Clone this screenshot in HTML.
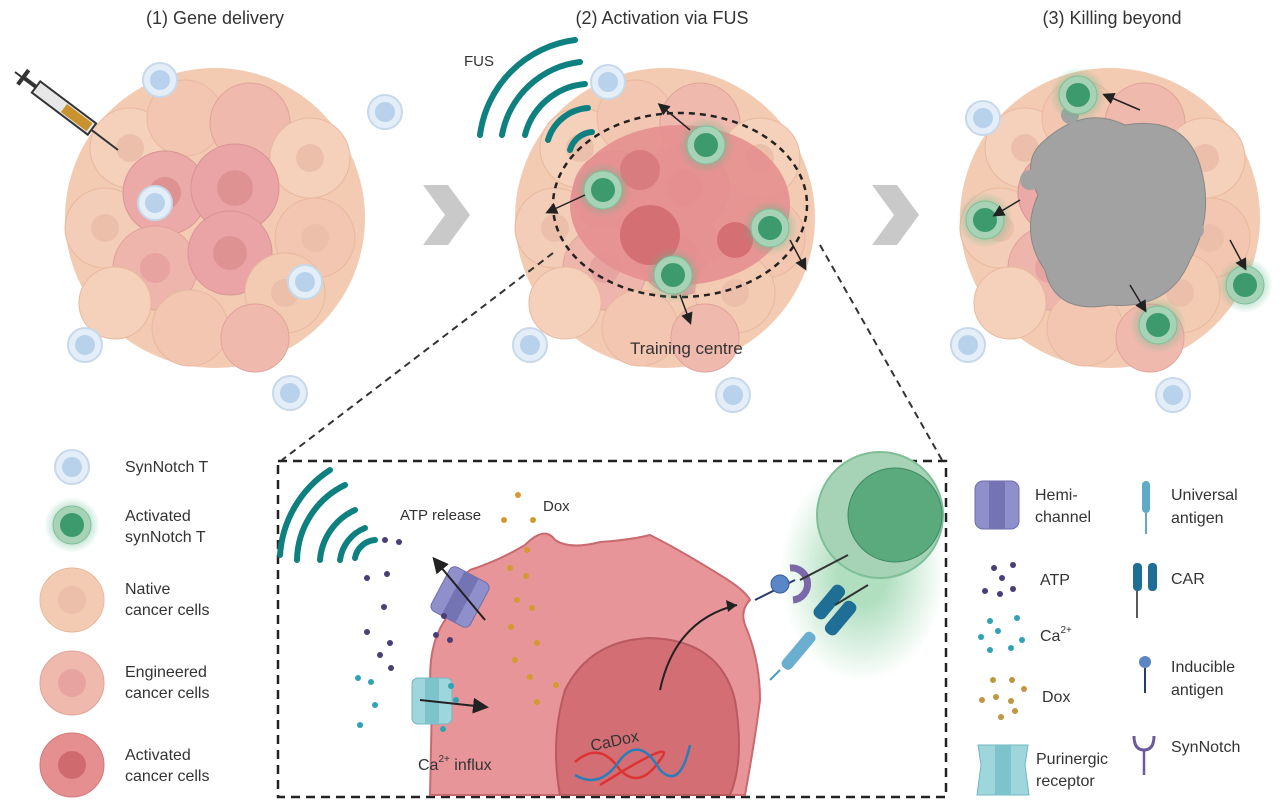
<!DOCTYPE html>
<html><head><meta charset="utf-8"><style>
html,body{margin:0;padding:0;background:#fff;width:1285px;height:809px;overflow:hidden}
svg{display:block}
text{font-family:"Liberation Sans",sans-serif;fill:#333}
</style></head><body>
<svg width="1285" height="809" viewBox="0 0 1285 809" xmlns="http://www.w3.org/2000/svg">
<defs>
<marker id="ah" markerWidth="8" markerHeight="8" refX="6" refY="4" orient="auto"><path d="M0,0 L8,4 L0,8Z" fill="#222"/></marker>
<radialGradient id="glow"><stop offset="0.4" stop-color="#5fb88a" stop-opacity="0.6"/><stop offset="1" stop-color="#5fb88a" stop-opacity="0"/></radialGradient>
<radialGradient id="bglow" cx="0.5" cy="0.5" r="0.5"><stop offset="0.3" stop-color="#8fd1a5" stop-opacity="0.7"/><stop offset="1" stop-color="#8fd1a5" stop-opacity="0"/></radialGradient>
<g id="cl">
<circle cx="0" cy="0" r="150" fill="#f3cbb2"/>
<circle cx="-85" cy="-70" r="40" fill="#f5d1bb" stroke="#e8b89e"/>
<circle cx="-30" cy="-100" r="38" fill="#f2c6b0" stroke="#e8b89e"/>
<circle cx="35" cy="-95" r="40" fill="#efb9ae" stroke="#e0a39a"/>
<circle cx="95" cy="-60" r="40" fill="#f5d1bb" stroke="#e8b89e"/>
<circle cx="-110" cy="10" r="40" fill="#f3cdb7" stroke="#e8b89e"/>
<circle cx="-50" cy="-25" r="42" fill="#eba9a8" stroke="#d99494"/>
<circle cx="20" cy="-30" r="44" fill="#eaa4a6" stroke="#d99494"/>
<circle cx="100" cy="20" r="40" fill="#f2c6b0" stroke="#e8b89e"/>
<circle cx="-60" cy="50" r="42" fill="#eeb5ac" stroke="#e0a39a"/>
<circle cx="15" cy="35" r="42" fill="#eaa4a6" stroke="#d99494"/>
<circle cx="70" cy="75" r="40" fill="#f3cbb2" stroke="#e8b89e"/>
<circle cx="-100" cy="85" r="36" fill="#f5d1bb" stroke="#e8b89e"/>
<circle cx="-25" cy="110" r="38" fill="#f2c6b0" stroke="#e8b89e"/>
<circle cx="40" cy="120" r="34" fill="#efb9ae" stroke="#e0a39a"/>
<circle cx="-50" cy="-25" r="16" fill="#df9292"/>
<circle cx="20" cy="-30" r="18" fill="#df9292"/>
<circle cx="15" cy="35" r="17" fill="#df9292"/>
<circle cx="-60" cy="50" r="15" fill="#e6a3a0"/>
<circle cx="-85" cy="-70" r="14" fill="#ebbfaa"/>
<circle cx="95" cy="-60" r="14" fill="#ebbfaa"/>
<circle cx="100" cy="20" r="14" fill="#ebbfaa"/>
<circle cx="-110" cy="10" r="14" fill="#ebbfaa"/>
<circle cx="70" cy="75" r="14" fill="#ebbfaa"/>
</g>
<g id="tc"><circle r="17" fill="#e4eef8" stroke="#c7d8ea" stroke-width="2"/><circle r="10" fill="#b8d2ec"/></g>
<g id="at"><circle r="28" fill="url(#glow)"/><circle r="19" fill="#a6d2b6" stroke="#7fbf98"/><circle r="12" fill="#3d9a6c"/></g>
</defs>

<text x="215" y="24" font-size="18" text-anchor="middle">(1) Gene delivery</text>
<text x="662" y="24" font-size="18" text-anchor="middle">(2) Activation via FUS</text>
<text x="1112" y="24" font-size="18" text-anchor="middle">(3) Killing beyond</text>

<use href="#cl" transform="translate(215,218)"/>
<use href="#tc" x="160" y="80"/><use href="#tc" x="385" y="112"/><use href="#tc" x="155" y="203"/>
<use href="#tc" x="305" y="282"/><use href="#tc" x="85" y="345"/><use href="#tc" x="290" y="393"/>
<line x1="15" y1="72" x2="118" y2="150" stroke="#333" stroke-width="2"/>
<g transform="translate(60,105) rotate(37)"><rect x="-30" y="-7" width="70" height="14" fill="#e7e7e7" stroke="#333" stroke-width="2"/><rect x="5" y="-5" width="32" height="10" fill="#c8922e"/><rect x="-44" y="-2" width="14" height="4" fill="#333"/><rect x="-48" y="-9" width="4" height="18" fill="#333"/></g>

<polygon points="423,185 448,185 470,215 448,245 423,245 445,215" fill="#c9c9c9"/>
<polygon points="872,185 897,185 919,215 897,245 872,245 894,215" fill="#c9c9c9"/>

<use href="#cl" transform="translate(665,218)"/>
<ellipse cx="680" cy="205" rx="110" ry="80" fill="#e58f90" opacity="0.9"/>
<circle cx="650" cy="235" r="30" fill="#d46f73"/><circle cx="735" cy="240" r="18" fill="#d46f73"/><circle cx="640" cy="170" r="20" fill="#d97c80"/>
<ellipse cx="680" cy="205" rx="127" ry="92" fill="none" stroke="#222" stroke-width="2.5" stroke-dasharray="6,5"/>
<use href="#tc" x="608" y="82"/><use href="#tc" x="530" y="345"/><use href="#tc" x="733" y="395"/>
<use href="#at" x="706" y="145"/><use href="#at" x="603" y="190"/><use href="#at" x="770" y="228"/><use href="#at" x="673" y="275"/>
<g fill="none" stroke="#0f8080" stroke-width="6" stroke-linecap="round">
<path d="M480,135 A110,110 0 0 1 575,40"/><path d="M502,135 A90,90 0 0 1 580,62"/><path d="M525,135 A68,68 0 0 1 585,84"/><path d="M548,140 A45,45 0 0 1 588,108"/><path d="M570,150 A25,25 0 0 1 592,132"/>
</g>
<text x="464" y="66" font-size="15">FUS</text>
<text x="630" y="354" font-size="17">Training centre</text>
<g stroke="#222" stroke-width="1.5" fill="none" marker-end="url(#ah)"><path d="M690,130 L660,105"/><path d="M585,195 L548,212"/><path d="M790,240 L805,268"/><path d="M680,295 L690,322"/></g>
<line x1="553" y1="253" x2="282" y2="460" stroke="#333" stroke-width="2" stroke-dasharray="7,5"/>
<line x1="820" y1="245" x2="942" y2="460" stroke="#333" stroke-width="2" stroke-dasharray="7,5"/>

<use href="#cl" transform="translate(1110,218)"/>
<path d="M1045,140 Q1085,105 1125,125 Q1185,115 1200,165 Q1215,215 1190,260 Q1170,310 1110,305 Q1055,315 1045,270 Q1020,235 1038,195 Q1020,160 1045,140Z" fill="#a2a2a2" stroke="#888"/>
<circle cx="1030" cy="180" r="10" fill="#a2a2a2"/><circle cx="1070" cy="115" r="9" fill="#a2a2a2"/><circle cx="1195" cy="230" r="9" fill="#a2a2a2"/>
<use href="#tc" x="983" y="118"/><use href="#tc" x="968" y="345"/><use href="#tc" x="1173" y="395"/>
<use href="#at" x="1078" y="95"/><use href="#at" x="985" y="220"/><use href="#at" x="1245" y="285"/><use href="#at" x="1158" y="325"/>
<g stroke="#222" stroke-width="1.5" fill="none" marker-end="url(#ah)"><path d="M1140,110 L1105,95"/><path d="M1020,200 L995,215"/><path d="M1230,240 L1245,268"/><path d="M1130,285 L1145,310"/></g>

<use href="#tc" x="72" y="467"/>
<text x="125" y="472" font-size="16">SynNotch T</text>
<use href="#at" x="72" y="525"/>
<text x="125" y="521" font-size="16">Activated</text><text x="125" y="542" font-size="16">synNotch T</text>
<circle cx="72" cy="600" r="32" fill="#f3cbb2" stroke="#e8b89e"/><circle cx="72" cy="600" r="14" fill="#ebbfaa"/>
<text x="125" y="594" font-size="16">Native</text><text x="125" y="615" font-size="16">cancer cells</text>
<circle cx="72" cy="683" r="32" fill="#efb9ae" stroke="#e0a39a"/><circle cx="72" cy="683" r="14" fill="#e6a3a0"/>
<text x="125" y="677" font-size="16">Engineered</text><text x="125" y="698" font-size="16">cancer cells</text>
<circle cx="72" cy="765" r="32" fill="#e58f90" stroke="#d47878"/><circle cx="72" cy="765" r="14" fill="#cf6a6f"/>
<text x="125" y="760" font-size="16">Activated</text><text x="125" y="781" font-size="16">cancer cells</text>

<rect x="278" y="461" width="668" height="336" fill="#fff" stroke="#222" stroke-width="2.5" stroke-dasharray="9,6"/>
<rect x="780" y="462" width="165" height="220" fill="url(#bglow)"/>
<circle cx="880" cy="515" r="63" fill="#a6d2b6" stroke="#7fbf98" stroke-width="2"/>
<circle cx="895" cy="515" r="47" fill="#5aaa7e" stroke="#3d8a62"/>
<g fill="none" stroke="#0f8080" stroke-width="6" stroke-linecap="round">
<path d="M280,555 A110,110 0 0 1 330,470"/><path d="M297,560 A85,85 0 0 1 345,485"/><path d="M320,560 A60,60 0 0 1 355,510"/><path d="M340,560 A40,40 0 0 1 365,528"/><path d="M355,558 A22,22 0 0 1 375,540"/>
</g>
<path d="M430,795 L432,700 Q425,650 445,620 Q450,585 470,570 Q500,560 525,545 Q545,525 555,540 Q570,550 600,542 Q630,540 650,535 Q680,550 720,575 Q745,590 750,600 Q740,610 745,625 Q760,660 760,700 Q755,740 745,795Z" fill="#e8959a" stroke="#c86a70" stroke-width="2"/>
<path d="M560,795 Q550,740 565,690 Q590,640 650,638 Q720,640 735,700 Q745,760 730,795Z" fill="#d36f74" stroke="#b85a60" stroke-width="2"/>
<text x="590" y="745" font-size="16" transform="rotate(-12 620 740)">CaDox</text>
<path d="M575,762 Q600,740 620,770 Q640,790 660,760 Q680,735 600,785" fill="none" stroke="#d33" stroke-width="2.5"/>
<path d="M575,775 Q600,790 620,760 Q640,735 660,770 Q680,790 690,745" fill="none" stroke="#2a7db8" stroke-width="2.5"/>
<path d="M660,690 Q675,620 737,605" fill="none" stroke="#222" stroke-width="2"/>
<polygon points="737,605 726,600 728,612" fill="#222"/>
<text x="400" y="520" font-size="15">ATP release</text>
<text x="543" y="511" font-size="15">Dox</text>
<text x="418" y="770" font-size="16">Ca<tspan dy="-8" font-size="10">2+</tspan><tspan dy="8"> influx</tspan></text>
<g transform="translate(460,597) rotate(28)"><rect x="-22" y="-25" width="44" height="50" rx="6" fill="#8f8fcc" stroke="#6e6eaa"/><rect x="-8" y="-25" width="16" height="50" fill="#7474b5"/></g>
<line x1="485" y1="620" x2="435" y2="560" stroke="#222" stroke-width="2" marker-end="url(#ah)"/>
<g transform="translate(432,700)"><rect x="-20" y="-22" width="40" height="46" rx="6" fill="#9fd6dc" stroke="#6fb8c0"/><rect x="-7" y="-22" width="14" height="46" fill="#7cc3cb"/></g>
<line x1="420" y1="700" x2="485" y2="707" stroke="#222" stroke-width="2" marker-end="url(#ah)"/>
<g fill="#4a3d78"><circle cx="385" cy="540" r="3"/><circle cx="399" cy="542" r="3"/><circle cx="367" cy="578" r="3"/><circle cx="387" cy="574" r="3"/><circle cx="384" cy="607" r="3"/><circle cx="367" cy="632" r="3"/><circle cx="390" cy="643" r="3"/><circle cx="380" cy="655" r="3"/><circle cx="391" cy="668" r="3"/><circle cx="444" cy="616" r="3"/><circle cx="436" cy="635" r="3"/><circle cx="450" cy="640" r="3"/></g>
<g fill="#2fa3b5"><circle cx="358" cy="678" r="3"/><circle cx="371" cy="682" r="3"/><circle cx="375" cy="705" r="3"/><circle cx="360" cy="725" r="3"/><circle cx="451" cy="686" r="3"/><circle cx="456" cy="700" r="3"/><circle cx="443" cy="729" r="3"/></g>
<g fill="#d39a2e"><circle cx="518" cy="495" r="3"/><circle cx="504" cy="520" r="3"/><circle cx="533" cy="520" r="3"/><circle cx="527" cy="550" r="3"/><circle cx="510" cy="568" r="3"/><circle cx="526" cy="576" r="3"/><circle cx="517" cy="600" r="3"/><circle cx="532" cy="608" r="3"/><circle cx="511" cy="627" r="3"/><circle cx="537" cy="643" r="3"/><circle cx="515" cy="660" r="3"/><circle cx="530" cy="677" r="3"/><circle cx="556" cy="685" r="3"/><circle cx="537" cy="702" r="3"/></g>
<line x1="755" y1="600" x2="795" y2="580" stroke="#2a3a6a" stroke-width="2"/>
<circle cx="780" cy="584" r="9" fill="#5a86c8" stroke="#3c5e99"/>
<path d="M790,568 A15,15 0 0 1 793,600" fill="none" stroke="#7b68a8" stroke-width="7"/>
<line x1="800" y1="580" x2="848" y2="555" stroke="#333" stroke-width="2"/>
<g transform="translate(810,625) rotate(40)"><rect x="-7" y="-50" width="14" height="40" rx="6" fill="#1f6e96"/><rect x="12" y="-45" width="14" height="40" rx="6" fill="#1f6e96"/></g>
<g transform="translate(795,655) rotate(40)"><rect x="-6" y="-28" width="12" height="45" rx="5" fill="#6aaed0"/></g>
<line x1="770" y1="680" x2="780" y2="670" stroke="#4a9ec2" stroke-width="2"/>
<line x1="835" y1="605" x2="868" y2="585" stroke="#333" stroke-width="2"/>

<g transform="translate(997,505)"><rect x="-22" y="-24" width="44" height="48" rx="8" fill="#8f8fcc" stroke="#6e6eaa"/><rect x="-8" y="-24" width="16" height="48" fill="#7474b5"/></g>
<text x="1035" y="500" font-size="16">Hemi-</text><text x="1035" y="522" font-size="16">channel</text>
<g fill="#4a3d78"><circle cx="994" cy="568" r="3"/><circle cx="1013" cy="565" r="3"/><circle cx="1002" cy="578" r="3"/><circle cx="985" cy="591" r="3"/><circle cx="1000" cy="594" r="3"/><circle cx="1013" cy="589" r="3"/></g>
<text x="1040" y="585" font-size="16">ATP</text>
<g fill="#2fa3b5"><circle cx="990" cy="621" r="3"/><circle cx="1017" cy="618" r="3"/><circle cx="998" cy="631" r="3"/><circle cx="981" cy="637" r="3"/><circle cx="1022" cy="640" r="3"/><circle cx="990" cy="650" r="3"/><circle cx="1011" cy="648" r="3"/></g>
<text x="1040" y="641" font-size="16">Ca<tspan dy="-8" font-size="10">2+</tspan></text>
<g fill="#c29640"><circle cx="993" cy="680" r="3"/><circle cx="1012" cy="680" r="3"/><circle cx="1024" cy="689" r="3"/><circle cx="982" cy="700" r="3"/><circle cx="996" cy="697" r="3"/><circle cx="1011" cy="701" r="3"/><circle cx="1015" cy="711" r="3"/><circle cx="1001" cy="717" r="3"/></g>
<text x="1042" y="702" font-size="16">Dox</text>
<g transform="translate(1003,765)"><path d="M-25,-20 L25,-20 L22,0 L26,30 L-26,30 L-22,0Z" fill="#9fd6dc" stroke="#6fb8c0"/><rect x="-8" y="-20" width="16" height="50" fill="#7cc3cb"/></g>
<text x="1036" y="764" font-size="16">Purinergic</text><text x="1036" y="786" font-size="16">receptor</text>
<rect x="1142" y="481" width="8" height="32" rx="4" fill="#5faac8"/><line x1="1146" y1="513" x2="1146" y2="534" stroke="#5faac8" stroke-width="2"/>
<text x="1171" y="500" font-size="16">Universal</text><text x="1171" y="523" font-size="16">antigen</text>
<rect x="1133" y="563" width="9" height="28" rx="4" fill="#1f6e96"/><rect x="1148" y="563" width="9" height="28" rx="4" fill="#1f6e96"/><line x1="1137" y1="591" x2="1137" y2="618" stroke="#222" stroke-width="1.5"/>
<text x="1171" y="584" font-size="16">CAR</text>
<circle cx="1145" cy="662" r="6" fill="#5a86c8"/><line x1="1145" y1="668" x2="1145" y2="693" stroke="#2a3a6a" stroke-width="2"/>
<text x="1171" y="672" font-size="16">Inducible</text><text x="1171" y="695" font-size="16">antigen</text>
<path d="M1134,736 Q1134,750 1144,750 Q1154,750 1154,736" fill="none" stroke="#6b5a9c" stroke-width="3"/><line x1="1144" y1="750" x2="1144" y2="775" stroke="#6b5a9c" stroke-width="2.5"/>
<text x="1171" y="752" font-size="16">SynNotch</text>
</svg>
</body></html>
